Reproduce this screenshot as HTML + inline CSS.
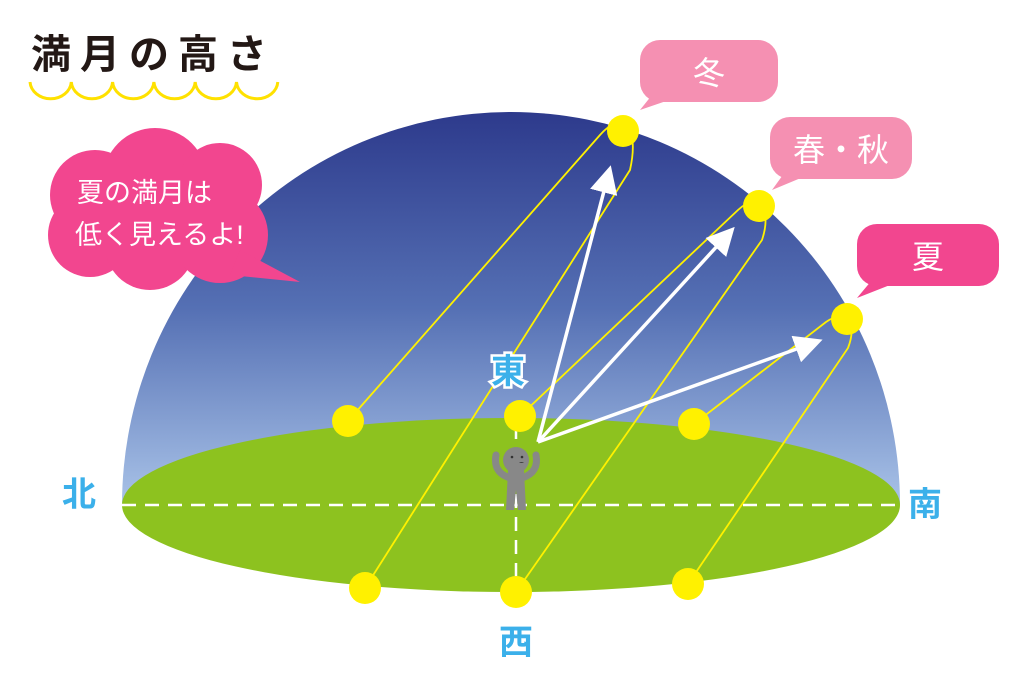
<!DOCTYPE html>
<html><head><meta charset="utf-8"><style>
html,body{margin:0;padding:0;background:#fff;width:1024px;height:683px;overflow:hidden}
svg{display:block}
text{font-family:"Liberation Sans","Noto Sans CJK JP",sans-serif}
</style></head><body>
<svg width="1024" height="683" viewBox="0 0 1024 683">
<defs>
<linearGradient id="sky" x1="0" y1="112" x2="0" y2="505" gradientUnits="userSpaceOnUse">
<stop offset="0" stop-color="#2d3a8c"/><stop offset="0.5" stop-color="#5570b4"/><stop offset="1" stop-color="#a9c3e8"/>
</linearGradient>
<marker id="ah" markerWidth="8" markerHeight="8" refX="6" refY="4" orient="auto" markerUnits="strokeWidth">
<path d="M0,0 L8,4 L0,8 Z" fill="#fff"/></marker>
</defs>
<text x="31" y="68" font-size="40" font-weight="bold" fill="#231815" letter-spacing="9">満月の高さ</text>
<path d="M30,82 a20.7,18 0 0 0 41.3,0 a20.7,18 0 0 0 41.3,0 a20.7,18 0 0 0 41.3,0 a20.7,18 0 0 0 41.3,0 a20.7,18 0 0 0 41.3,0 a20.7,18 0 0 0 41.3,0" fill="none" stroke="#ffe100" stroke-width="3"/>
<path d="M122,505 A389,393 0 0 1 900,505 Z" fill="url(#sky)"/>
<ellipse cx="511" cy="505" rx="389" ry="87" fill="#8dc21f"/>
<line x1="122" y1="505" x2="900" y2="505" stroke="#fff" stroke-width="2.5" stroke-dasharray="14,9"/>
<line x1="516" y1="425" x2="516" y2="595" stroke="#fff" stroke-width="2.5" stroke-dasharray="14,9"/>
<g fill="none" stroke="#fff100" stroke-width="1.8">
<path d="M348,421 L600,135 C622,110 640,125 630,170 L365,588"/>
<path d="M520,416 L738,210 C760,190 772,210 762,240 L516,592"/>
<path d="M694,424 L826,322 C846,308 858,322 848,348 L688,584"/>
</g>
<g stroke="#fff" stroke-width="3.5" fill="none">
<line x1="538" y1="442" x2="609" y2="172" marker-end="url(#ah)"/>
<line x1="538" y1="442" x2="730" y2="232" marker-end="url(#ah)"/>
<line x1="538" y1="442" x2="816" y2="342" marker-end="url(#ah)"/>
</g>
<g fill="#fff100">
<circle cx="348" cy="421" r="16"/><circle cx="520" cy="416" r="16"/><circle cx="694" cy="424" r="16"/>
<circle cx="365" cy="588" r="16"/><circle cx="516" cy="592" r="16"/><circle cx="688" cy="584" r="16"/>
<circle cx="623" cy="131" r="16"/><circle cx="759" cy="206" r="16"/><circle cx="847" cy="319" r="16"/>
</g>
<g fill="#888">
<circle cx="516" cy="460" r="13"/>
<path d="M508,470 L524,470 L526,510 L518,510 L516,490 L514,510 L506,510 Z"/>
<path d="M510,478 C498,474 494,466 496,455" stroke="#888" stroke-width="7" fill="none" stroke-linecap="round"/>
<path d="M522,478 C534,474 538,466 536,455" stroke="#888" stroke-width="7" fill="none" stroke-linecap="round"/>
</g>
<circle cx="512" cy="457" r="1.3" fill="#333"/><circle cx="522" cy="457" r="1.3" fill="#333"/>
<path d="M519,462 a3,2 0 0 0 5,0 Z" fill="#333"/>
<g font-size="34" font-weight="bold" fill="#3bb0ea">
<text x="62" y="506">北</text>
<text x="908" y="516">南</text>
<text x="499" y="654">西</text>
<text x="491" y="383" stroke="#fff" stroke-width="5" paint-order="stroke">東</text>
</g>
<path d="M652,95 L640,110 L675,98 Z" fill="#f590b2"/>
<rect x="640" y="40" width="138" height="62" rx="20" fill="#f590b2"/>
<text x="709" y="84" font-size="32" fill="#fff" text-anchor="middle">冬</text>
<path d="M785,172 L772,190 L808,175 Z" fill="#f590b2"/>
<rect x="770" y="117" width="142" height="62" rx="20" fill="#f590b2"/>
<text x="841" y="161" font-size="32" fill="#fff" text-anchor="middle">春・秋</text>
<path d="M872,280 L857,298 L895,283 Z" fill="#f2468f"/>
<rect x="857" y="224" width="142" height="62" rx="20" fill="#f2468f"/>
<text x="928" y="268" font-size="32" fill="#fff" text-anchor="middle">夏</text>
<g fill="#f2468f">
<circle cx="155" cy="180" r="52"/><circle cx="220" cy="185" r="42"/><circle cx="95" cy="195" r="45"/>
<circle cx="90" cy="235" r="42"/><circle cx="150" cy="245" r="45"/><circle cx="220" cy="235" r="48"/>
<rect x="80" y="170" width="170" height="80"/>
<path d="M240,250 L300,282 L230,275 Z"/>
</g>
<text x="77" y="202" font-size="27" fill="#fff">夏の満月は</text>
<text x="75" y="244" font-size="27" fill="#fff">低く見えるよ!</text>
</svg>
</body></html>
